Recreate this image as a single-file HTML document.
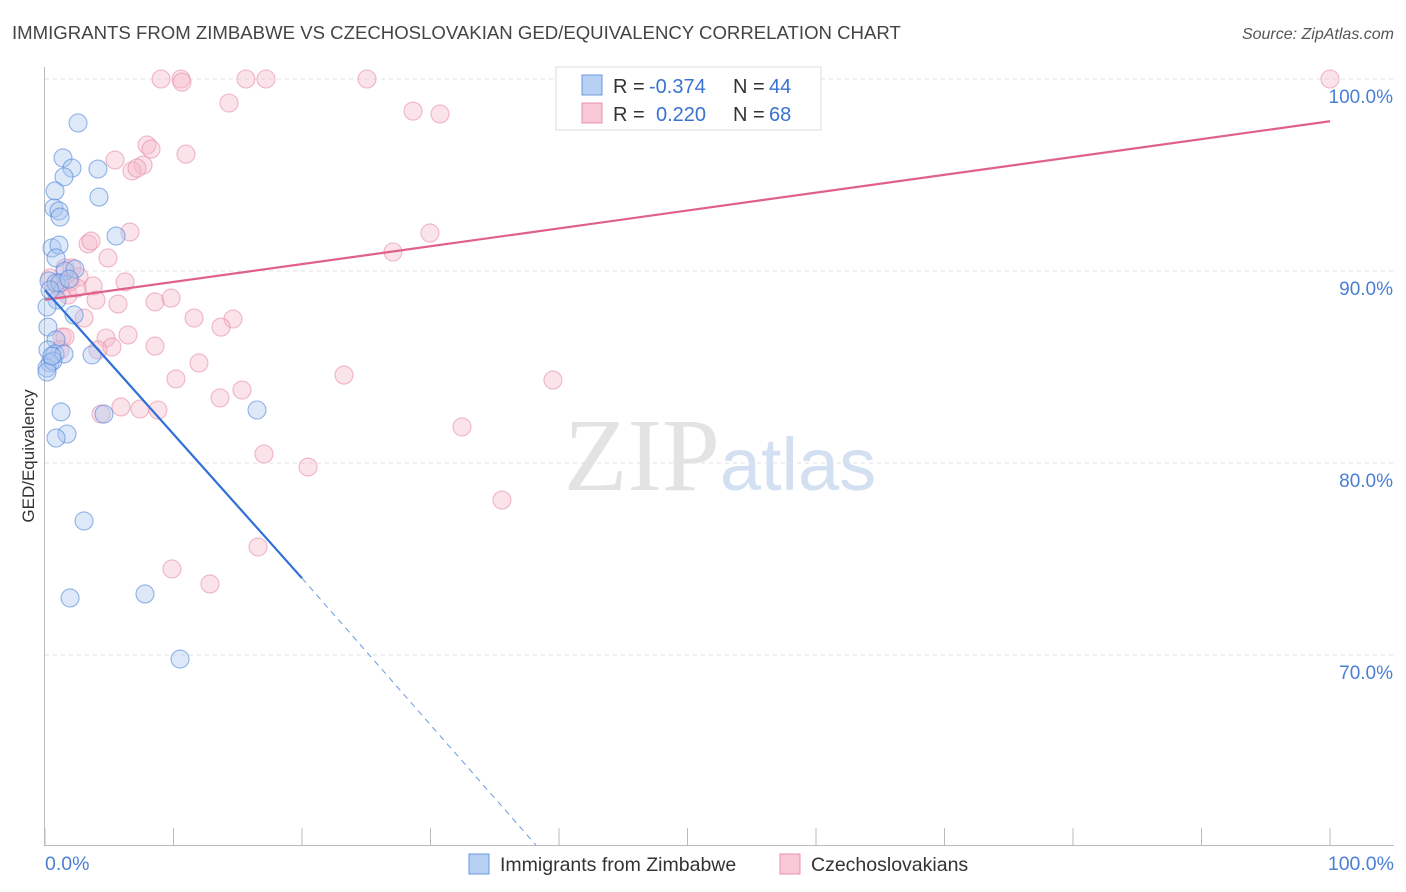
<!DOCTYPE html>
<html><head><meta charset="utf-8"><style>
body{margin:0;background:#fff;font-family:"Liberation Sans",sans-serif}
</style></head><body>
<svg id="chart" width="1406" height="892" xmlns="http://www.w3.org/2000/svg" style="display:block">
<text x="12" y="39" font-size="18.6" fill="#444">IMMIGRANTS FROM ZIMBABWE VS CZECHOSLOVAKIAN GED/EQUIVALENCY CORRELATION CHART</text>
<text x="1394" y="39" font-size="16" fill="#555" font-style="italic" text-anchor="end">Source: ZipAtlas.com</text>
<text x="720" y="490" font-size="104" text-anchor="middle" font-family="Liberation Serif,serif" fill="#ddd" opacity="0.8">ZIP<tspan fill="#c9d9ee" font-family="Liberation Sans,sans-serif" font-size="74">atlas</tspan></text>
<g id="grid"></g><g id="marks"></g>
<text transform="translate(34,456) rotate(-90)" font-size="17" fill="#333" text-anchor="middle">GED/Equivalency</text>
<text x="45" y="870" font-size="19.5" fill="#4a7fd4">0.0%</text>
<text x="1394" y="870" font-size="19.5" fill="#4a7fd4" text-anchor="end">100.0%</text>
<g font-size="20">
<rect x="556" y="67" width="265" height="63" fill="#fff" stroke="#ddd"/>
<rect x="582" y="75" width="20" height="20" fill="#b8d0f4" stroke="#6a9ae0"/>
<rect x="582" y="103" width="20" height="20" fill="#f8c8d6" stroke="#e890aa"/>
<text x="613" y="93" fill="#333">R =</text><text x="649" y="93" fill="#3a72d0">-0.374</text>
<text x="733" y="93" fill="#333">N =</text><text x="769" y="93" fill="#3a72d0">44</text>
<text x="613" y="121" fill="#333">R =</text><text x="656" y="121" fill="#3a72d0">0.220</text>
<text x="733" y="121" fill="#333">N =</text><text x="769" y="121" fill="#3a72d0">68</text>
</g>
<g font-size="19.5">
<rect x="469" y="854" width="20" height="20" fill="#b8d0f4" stroke="#6a9ae0"/>
<text x="500" y="871" fill="#333">Immigrants from Zimbabwe</text>
<rect x="780" y="854" width="20" height="20" fill="#f8c8d6" stroke="#e890aa"/>
<text x="811" y="871" fill="#333">Czechoslovakians</text>
</g>
</svg>
<script>
const yTicks=[70,80,90,100];
const xTicks=[0,10,20,30,40,50,60,70,80,90,100];
const bluePx=[[78,123],[63,158],[72,168],[64,177],[98,169],[55,191],[99,197],[54,208],[59,211],[60,217],[116,236],[52,248],[59,245],[56,258],[65,271],[75,269],[49,281],[56,283],[60,283],[69,279],[57,300],[47,307],[74,315],[48,327],[56,340],[48,350],[55,354],[64,354],[92,355],[50,363],[47,368],[53,361],[61,412],[257,410],[104,414],[67,434],[56,438],[84,521],[70,598],[145,594],[180,659],[47,372],[50,290],[52,356]];
const pinkPx=[[161,79],[181,79],[182,82],[246,79],[266,79],[367,79],[1330,79],[229,103],[413,111],[440,114],[147,145],[151,149],[186,154],[115,160],[143,165],[132,171],[137,168],[130,232],[88,244],[91,241],[430,233],[393,252],[108,258],[65,268],[72,268],[79,277],[93,286],[58,285],[62,290],[125,282],[96,300],[118,304],[155,302],[171,298],[84,318],[194,318],[233,319],[221,327],[62,337],[65,337],[106,338],[128,335],[112,347],[98,350],[155,346],[199,363],[176,379],[344,375],[553,380],[242,390],[220,398],[101,414],[121,407],[140,409],[158,410],[462,427],[264,454],[308,467],[502,500],[258,547],[172,569],[210,584],[55,290],[70,282],[50,278],[60,350],[68,295],[77,288]];
const blueX=bluePx.map(p=>+((p[0]-45)/12.85).toFixed(2));
const blueY=bluePx.map(p=>+(100-(p[1]-79)/19.2).toFixed(2));
const pinkX=pinkPx.map(p=>+((p[0]-45)/12.85).toFixed(2));
const pinkY=pinkPx.map(p=>+(100-(p[1]-79)/19.2).toFixed(2));
const blueTrend=[[0,89.0],[20,74.0]];
const blueTrendExt=[[20,74.0],[38.2,60.1]];
const pinkTrend=[[0,88.5],[100,97.8]];
const X=v=>45+v*12.85, Y=v=>79+(100-v)*19.2;
const NS="http://www.w3.org/2000/svg";
const grid=document.getElementById('grid'), marks=document.getElementById('marks');
function mk(tag,attrs,parent){const e=document.createElementNS(NS,tag);for(const k in attrs)e.setAttribute(k,attrs[k]);parent.appendChild(e);return e;}
yTicks.forEach(t=>{
 const l=mk('line',{x1:45,x2:1394,y1:Y(t),y2:Y(t),stroke:'#e2e2e2','stroke-dasharray':'4,4'},grid);
 
 
 const tx=mk('text',{x:1393,y:Y(t)+24,'font-size':19,fill:'#4a7fd4','text-anchor':'end'},grid);
 tx.textContent=t.toFixed(1)+'%';
 
 
});
mk('line',{x1:44.5,x2:44.5,y1:67,y2:845,stroke:'#bbb'},grid);
mk('line',{x1:44,x2:1394,y1:845.5,y2:845.5,stroke:'#bbb'},grid);
xTicks.forEach(t=>{
 const l=mk('line',{x1:X(t),x2:X(t),y1:828,y2:845,stroke:'#bbb'},grid);
 
 
});
function pts(xs,ys,fill,stroke,name){xs.forEach((x,i)=>{
 const c=mk('circle',{cx:X(x),cy:Y(ys[i]),r:9,fill:fill,'fill-opacity':0.4,stroke:stroke,'stroke-opacity':0.6,'stroke-width':1.1},marks);
 
 
});}
pts(pinkX,pinkY,'#f6b8cb','#e88aa8','czech-point');
pts(blueX,blueY,'#a9c6f0','#4f86d8','zimbabwe-point');
function ln(a,color,dash,name,w){const l=mk('line',{x1:X(a[0][0]),y1:Y(a[0][1]),x2:X(a[1][0]),y2:Y(a[1][1]),stroke:color,'stroke-width':w},marks);
 if(dash)l.setAttribute('stroke-dasharray',dash);
 
 }
ln(pinkTrend,'#e0608a',null,'czech-trendline',2.2);
ln(blueTrend,'#2f6fd6',null,'zimbabwe-trendline',2.2);
ln(blueTrendExt,'#6a9ae0','6,5','zimbabwe-trendline-extension',1);
</script>
</body></html>
